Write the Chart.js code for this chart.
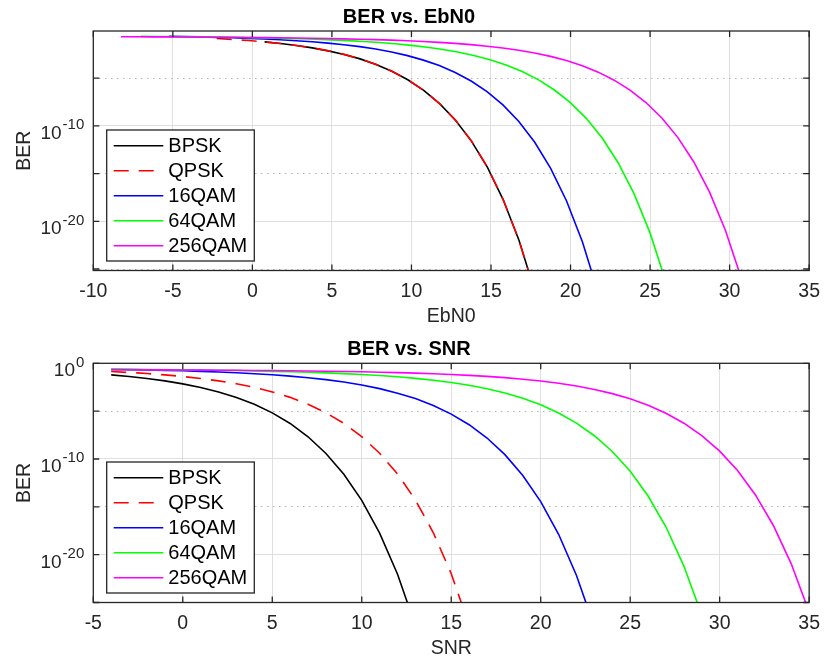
<!DOCTYPE html>
<html>
<head>
<meta charset="utf-8">
<title>BER vs. EbN0 / SNR</title>
<script src="https://cdn.jsdelivr.net/npm/chart.js@4.4.1/dist/chart.umd.min.js"></script>
<style>
    html, body { margin: 0; padding: 0; background: #fff; }
    .panel { position: absolute; left: 0; width: 829px; height: 330px; }
</style>
</head>
<body>
<div class="panel" style="top:0"><canvas id="ebn0-graph" width="829" height="330"></canvas></div>
<div class="panel" style="top:330px"><canvas id="snr-graph" width="829" height="330"></canvas></div>
<script>
const modulations = ['BPSK', 'QPSK', '16QAM', '64QAM', '256QAM'];
const lineColors = ['#000000', '#ff0000', '#0000ff', '#00ff00', '#ff00ff'];
const lineDashes = [[], [15, 10], [], [], []];

// SNR axis (dB), shared by every curve of the lower plot
const snrDb = [-4, -3, -2, -1, 0, 1, 2, 3, 4, 5, 6, 7, 8, 9, 10, 11, 12, 13, 14, 15,
    16, 17, 18, 19, 20, 21, 22, 23, 24, 25, 26, 27, 28, 29, 30, 31, 32, 33, 34, 35];

// EbN0 axis (dB) of each curve in the upper plot
const ebn0Bpsk = [0.77, 1.77, 2.77, 3.77, 4.77, 5.77, 6.77, 7.77, 8.77, 9.77, 10.77, 11.77,
    12.77, 13.77, 14.77, 15.77, 16.77, 17.77];
const ebn0Qpsk = [-2.24, -1.24, -0.24, 0.76, 1.76, 2.76, 3.76, 4.76, 5.76, 6.76, 7.76, 8.76,
    9.76, 10.76, 11.76, 12.76, 13.76, 14.76, 15.76, 16.76, 17.76];
const ebn016qam = [-5.25, -4.25, -3.25, -2.25, -1.25, -0.25, 0.75, 1.75, 2.75, 3.75, 4.75,
    5.75, 6.75, 7.75, 8.75, 9.75, 10.75, 11.75, 12.75, 13.75, 14.75, 15.75, 16.75, 17.75,
    18.75, 19.75, 20.75, 21.75];
const ebn064qam = [-7.01, -6.01, -5.01, -4.01, -3.01, -2.01, -1.01, -0.01, 0.99, 1.99, 2.99,
    3.99, 4.99, 5.99, 6.99, 7.99, 8.99, 9.99, 10.99, 11.99, 12.99, 13.99, 14.99, 15.99, 16.99,
    17.99, 18.99, 19.99, 20.99, 21.99, 22.99, 23.99, 24.99, 25.99];
const ebn0256qam = [-8.26, -7.26, -6.26, -5.26, -4.26, -3.26, -2.26, -1.26, -0.26, 0.74, 1.74,
    2.74, 3.74, 4.74, 5.74, 6.74, 7.74, 8.74, 9.74, 10.74, 11.74, 12.74, 13.74, 14.74, 15.74,
    16.74, 17.74, 18.74, 19.74, 20.74, 21.74, 22.74, 23.74, 24.74, 25.74, 26.74, 27.74, 28.74,
    29.74, 30.74];

// log10(BER) per point
const berLogBpsk = [-1.21, -1.38, -1.59, -1.84, -2.15, -2.53, -2.99, -3.57, -4.29, -5.18,
    -6.29, -7.68, -9.42, -11.60, -14.32, -17.75, -22.04, -27.44];
const berLogQpsk = [-0.86, -0.96, -1.07, -1.21, -1.38, -1.59, -1.84, -2.14, -2.52, -2.99,
    -3.56, -4.28, -5.17, -6.28, -7.67, -9.40, -11.57, -14.29, -17.71, -21.99, -27.38];
const berLog16qam = [-0.63, -0.66, -0.69, -0.74, -0.78, -0.84, -0.91, -0.99, -1.09, -1.20,
    -1.34, -1.51, -1.71, -1.96, -2.27, -2.65, -3.12, -3.69, -4.41, -5.31, -6.42, -7.81,
    -9.55, -11.72, -14.45, -17.87, -22.17, -27.56];
const berLog64qam = [-0.63, -0.64, -0.65, -0.67, -0.69, -0.71, -0.73, -0.76, -0.80, -0.84,
    -0.88, -0.94, -1.00, -1.08, -1.17, -1.28, -1.41, -1.58, -1.77, -2.01, -2.30, -2.66,
    -3.11, -3.66, -4.34, -5.19, -6.25, -7.57, -9.22, -11.28, -13.87, -17.11, -21.19, -26.31];
const berLog256qam = [-0.67, -0.68, -0.69, -0.69, -0.70, -0.71, -0.72, -0.73, -0.75, -0.76,
    -0.78, -0.80, -0.83, -0.85, -0.89, -0.93, -0.97, -1.03, -1.09, -1.17, -1.26, -1.37,
    -1.50, -1.66, -1.85, -2.09, -2.38, -2.73, -3.17, -3.71, -4.38, -5.22, -6.26, -7.56,
    -9.18, -11.21, -13.76, -16.95, -20.96, -25.99];

const berLogs = [berLogBpsk, berLogQpsk, berLog16qam, berLog64qam, berLog256qam];
const ebn0Axes = [ebn0Bpsk, ebn0Qpsk, ebn016qam, ebn064qam, ebn0256qam];
const snrAxes = [snrDb, snrDb, snrDb, snrDb, snrDb];

const yTickExps = [-25, -20, -15, -10, -5, 0];

const FONT = '"Liberation Sans", Arial, Helvetica, sans-serif';
const AXIS_COLOR = '#262626';
Chart.defaults.font.family = FONT;
Chart.defaults.color = AXIS_COLOR;

const toPoints = (xs, logs) => logs.map((v, i) => ({ x: xs[i], y: Math.pow(10, v) }));

// box, inward tick marks and 10^n labels like a MATLAB axes
const matlabAxes = {
    id: 'matlabAxes',
    afterDatasetsDraw(chart) {
        const { ctx, chartArea: a, scales: { x, y } } = chart;
        ctx.save();
        ctx.strokeStyle = AXIS_COLOR;
        ctx.lineWidth = 1.3;
        ctx.beginPath();
        x.ticks.forEach(t => {
            const px = x.getPixelForValue(t.value);
            ctx.moveTo(px, a.bottom); ctx.lineTo(px, a.bottom - 6);
            ctx.moveTo(px, a.top); ctx.lineTo(px, a.top + 6);
        });
        y.ticks.forEach(t => {
            const py = y.getPixelForValue(t.value);
            ctx.moveTo(a.left, py); ctx.lineTo(a.left + 6, py);
            ctx.moveTo(a.right, py); ctx.lineTo(a.right - 6, py);
        });
        ctx.stroke();
        ctx.strokeRect(a.left, a.top, a.right - a.left, a.bottom - a.top);

        ctx.fillStyle = AXIS_COLOR;
        ctx.textAlign = 'left';
        ctx.textBaseline = 'alphabetic';
        y.ticks.filter(t => t.major).forEach(t => {
            const py = y.getPixelForValue(t.value);
            const exp = String(Math.round(Math.log10(t.value)));
            ctx.font = '15px ' + FONT;
            const ew = ctx.measureText(exp).width;
            ctx.font = '19px ' + FONT;
            const bw = ctx.measureText('10').width;
            const right = a.left - 9;
            ctx.fillText('10', right - ew - bw - 1, py + 13);
            ctx.font = '15px ' + FONT;
            ctx.fillText(exp, right - ew, py + 3.5);
        });
        ctx.restore();
    }
};

const boxLegend = {
    id: 'boxLegend',
    afterDraw(chart) {
        const { ctx, chartArea: a } = chart;
        const w = 147.6, h = 131;
        const left = a.left + 13.4;
        const top = a.bottom - 9.5 - h;
        ctx.save();
        ctx.fillStyle = '#ffffff';
        ctx.fillRect(left, top, w, h);
        ctx.strokeStyle = AXIS_COLOR;
        ctx.lineWidth = 1.3;
        ctx.strokeRect(left, top, w, h);
        ctx.font = '20px ' + FONT;
        ctx.textAlign = 'left';
        ctx.textBaseline = 'middle';
        chart.data.datasets.forEach((ds, i) => {
            const cy = top + 15.7 + i * 25;
            ctx.strokeStyle = ds.borderColor;
            ctx.lineWidth = ds.borderWidth;
            ctx.setLineDash(ds.borderDash);
            ctx.beginPath();
            ctx.moveTo(left + 7, cy);
            ctx.lineTo(left + 56.6, cy);
            ctx.stroke();
            ctx.setLineDash([]);
            ctx.fillStyle = '#000000';
            ctx.fillText(ds.label, left + 61.6, cy + 0.5);
        });
        ctx.restore();
    }
};

const makeChart = (canvasId, cfg) => new Chart(document.getElementById(canvasId), {
    type: 'line',
    data: {
        datasets: modulations.map((name, i) => ({
            label: name,
            data: toPoints(cfg.xs[i], berLogs[i]),
            borderColor: lineColors[i],
            borderWidth: 1.6,
            borderDash: lineDashes[i],
            pointRadius: 0,
            fill: false,
            tension: 0,
            clip: 0,
            order: modulations.length - i,
        }))
    },
    options: {
        responsive: false,
        animation: false,
        events: [],
        layout: { padding: { left: 0, right: 11, top: 0, bottom: 0 } },
        plugins: {
            legend: { display: false },
            tooltip: { enabled: false },
            title: {
                display: true,
                text: cfg.title,
                color: '#000000',
                font: { size: 20, weight: 'bold' },
                padding: cfg.titlePadding,
            },
        },
        scales: {
            x: {
                type: 'linear',
                min: cfg.xMin,
                max: cfg.xMax,
                ticks: { stepSize: 5, autoSkip: false, maxRotation: 0, padding: 9, font: { size: 19.5 }, color: AXIS_COLOR },
                grid: { color: '#dfdfdf', lineWidth: 1, drawTicks: false },
                border: { display: false },
                title: { display: true, text: cfg.xTitle, color: AXIS_COLOR, font: { size: 19.5 }, padding: { top: 0, bottom: cfg.xTitleBottom } },
                afterFit: (scale) => { scale.height = cfg.xAxisHeight; },
            },
            y: {
                type: 'logarithmic',
                min: Math.pow(10, cfg.yMinExp),
                max: Math.pow(10, cfg.yMaxExp),
                afterBuildTicks: (scale) => {
                    scale.ticks = yTickExps
                        .filter(e => e >= cfg.yMinExp && e <= cfg.yMaxExp)
                        .map(e => ({ value: Math.pow(10, e), major: e % 10 === 0 }));
                },
                ticks: { display: false },
                grid: {
                    drawTicks: false,
                    lineWidth: 1,
                    color: (c) => (c.tick && c.tick.major) ? '#dfdfdf' : '#b5b5b5',
                },
                border: {
                    display: false,
                    dash: (c) => (c.tick && !c.tick.major) ? [1.5, 4.5] : [],
                },
                title: { display: true, text: 'BER', color: AXIS_COLOR, font: { size: 19.5 }, padding: { top: 12.5, bottom: 0 } },
                afterFit: (scale) => { scale.width = 93.3; },
            },
        },
    },
    plugins: [matlabAxes, boxLegend],
});

const ebn0Graph = makeChart('ebn0-graph', {
    title: 'BER vs. EbN0',
    xTitle: 'EbN0',
    xs: ebn0Axes,
    xMin: -10, xMax: 35,
    yMinExp: -25.15, yMaxExp: -0.07,
    titlePadding: { top: 5, bottom: 2 },
    xAxisHeight: 59.5,
    xTitleBottom: 1.8,
});

const snrGraph = makeChart('snr-graph', {
    title: 'BER vs. SNR',
    xTitle: 'SNR',
    xs: snrAxes,
    xMin: -5, xMax: 35,
    yMinExp: -25, yMaxExp: 0,
    titlePadding: { top: 7, bottom: 2.3 },
    xAxisHeight: 57.5,
    xTitleBottom: 0,
});
</script>
</body>
</html>
